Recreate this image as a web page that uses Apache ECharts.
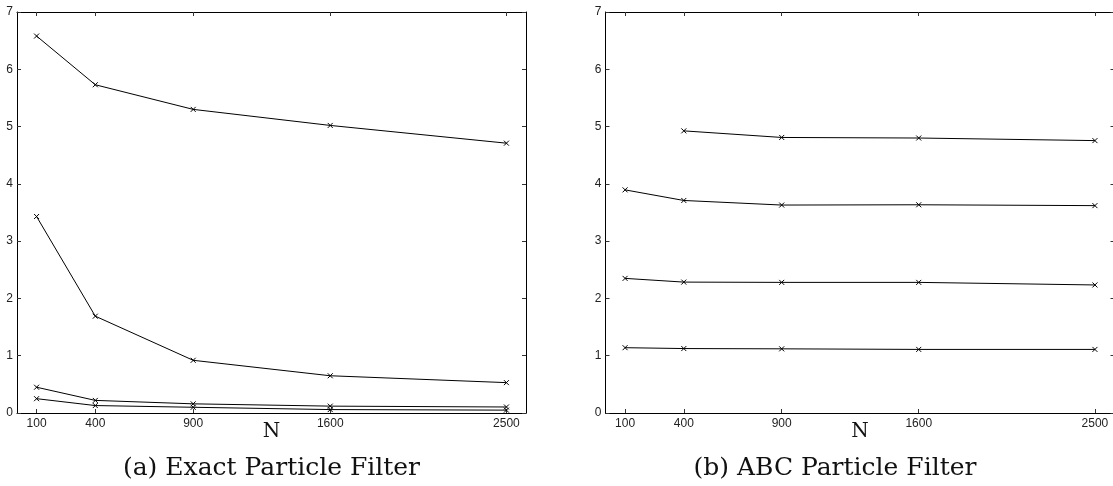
<!DOCTYPE html>
<html>
<head>
<meta charset="utf-8">
<script src="https://cdn.jsdelivr.net/npm/echarts@6/dist/echarts.min.js"></script>
<style>
html,body{margin:0;padding:0;background:#fff;}
#c{width:1113px;height:486px;}
</style>
</head>
<body>
<div id="c"></div>
<script>
var nValues = [100, 400, 900, 1600, 2500];
var yTicks = [0, 1, 2, 3, 4, 5, 6, 7];

// (a) Exact Particle Filter
var exactS1 = [6.58, 5.73, 5.30, 5.02, 4.71];
var exactS2 = [3.43, 1.69, 0.92, 0.65, 0.53];
var exactS3 = [0.45, 0.22, 0.16, 0.12, 0.105];
var exactS4 = [0.25, 0.13, 0.10, 0.06, 0.05];

// (b) ABC Particle Filter
var abcS1 = [null, 4.925, 4.81, 4.80, 4.755];
var abcS2 = [3.895, 3.71, 3.63, 3.635, 3.62];
var abcS3 = [2.35, 2.285, 2.28, 2.28, 2.235];
var abcS4 = [1.14, 1.125, 1.12, 1.11, 1.11];

var captions = ['(a) Exact Particle Filter', '(b) ABC Particle Filter'];
var xName = 'N';

function pairs(vals) {
  var out = [];
  for (var i = 0; i < nValues.length; i++) {
    if (vals[i] !== null) out.push([nValues[i], vals[i]]);
  }
  return out;
}

var grids = [
  {left: 17, top: 12, width: 509, height: 401, outerBoundsMode: 'none', containLabel: false},
  {left: 605.5, top: 12, width: 509, height: 401, outerBoundsMode: 'none', containLabel: false}
];

var tickStyle = {show: true, inside: true, length: 4, lineStyle: {color: '#333', width: 1}};
var lineStyle = {color: '#000', width: 1};
var labelFont = {color: '#222', fontSize: 12, fontFamily: '"Liberation Sans", Arial, sans-serif'};
var plainFmt = function (v) { return String(v); };

var xAxes = [], yAxes = [];
[0, 1].forEach(function (g) {
  xAxes.push({
    type: 'value', gridIndex: g, min: 0, max: 2600, position: 'bottom',
    splitLine: {show: false},
    axisLine: {show: true, onZero: false, lineStyle: lineStyle},
    axisTick: Object.assign({customValues: nValues}, tickStyle),
    axisLabel: Object.assign({customValues: nValues, margin: 5, formatter: plainFmt}, labelFont),
    name: xName, nameLocation: 'middle', nameGap: 19, nameMoveOverlap: false,
    nameTextStyle: {fontFamily: '"DejaVu Serif", "Liberation Serif", serif', fontSize: 20, color: '#111', verticalAlign: 'middle'}
  });
  xAxes.push({
    type: 'value', gridIndex: g, min: 0, max: 2600, position: 'top',
    splitLine: {show: false},
    axisLine: {show: true, onZero: false, lineStyle: lineStyle},
    axisTick: Object.assign({customValues: nValues}, tickStyle),
    axisLabel: {show: false}
  });
  yAxes.push({
    type: 'value', gridIndex: g, min: 0, max: 7, interval: 1, position: 'left',
    splitLine: {show: false},
    axisLine: {show: true, onZero: false, lineStyle: lineStyle},
    axisTick: tickStyle,
    axisLabel: Object.assign({margin: 4, formatter: plainFmt}, labelFont)
  });
  yAxes.push({
    type: 'value', gridIndex: g, min: 0, max: 7, interval: 1, position: 'right',
    splitLine: {show: false},
    axisLine: {show: true, onZero: false, lineStyle: lineStyle},
    axisTick: tickStyle,
    axisLabel: {show: false}
  });
});

var crossSymbol = 'path://M0,0L10,10M10,0L0,10';
function mk(vals, g) {
  return {
    type: 'line', xAxisIndex: g * 2, yAxisIndex: g * 2,
    data: pairs(vals),
    symbol: crossSymbol, symbolSize: 5, showSymbol: true,
    lineStyle: {color: '#000', width: 1},
    itemStyle: {color: 'rgba(0,0,0,0)', borderColor: '#000', borderWidth: 1},
    animation: false, silent: true
  };
}

var series = [
  mk(exactS1, 0), mk(exactS2, 0), mk(exactS3, 0), mk(exactS4, 0),
  mk(abcS1, 1), mk(abcS2, 1), mk(abcS3, 1), mk(abcS4, 1)
];

var capFont = '25px "DejaVu Serif", "Liberation Serif", serif';
var chart = echarts.init(document.getElementById('c'), null, {renderer: 'canvas'});
chart.setOption({
  backgroundColor: '#fff',
  animation: false,
  grid: grids,
  xAxis: xAxes,
  yAxis: yAxes,
  series: series,
  graphic: [
    {type: 'text', x: 271.5, y: 468, silent: true,
     style: {text: captions[0], font: capFont, fill: '#111', align: 'center', verticalAlign: 'middle'}},
    {type: 'text', x: 835, y: 468, silent: true,
     style: {text: captions[1], font: capFont, fill: '#111', align: 'center', verticalAlign: 'middle'}}
  ]
});
</script>
</body>
</html>
